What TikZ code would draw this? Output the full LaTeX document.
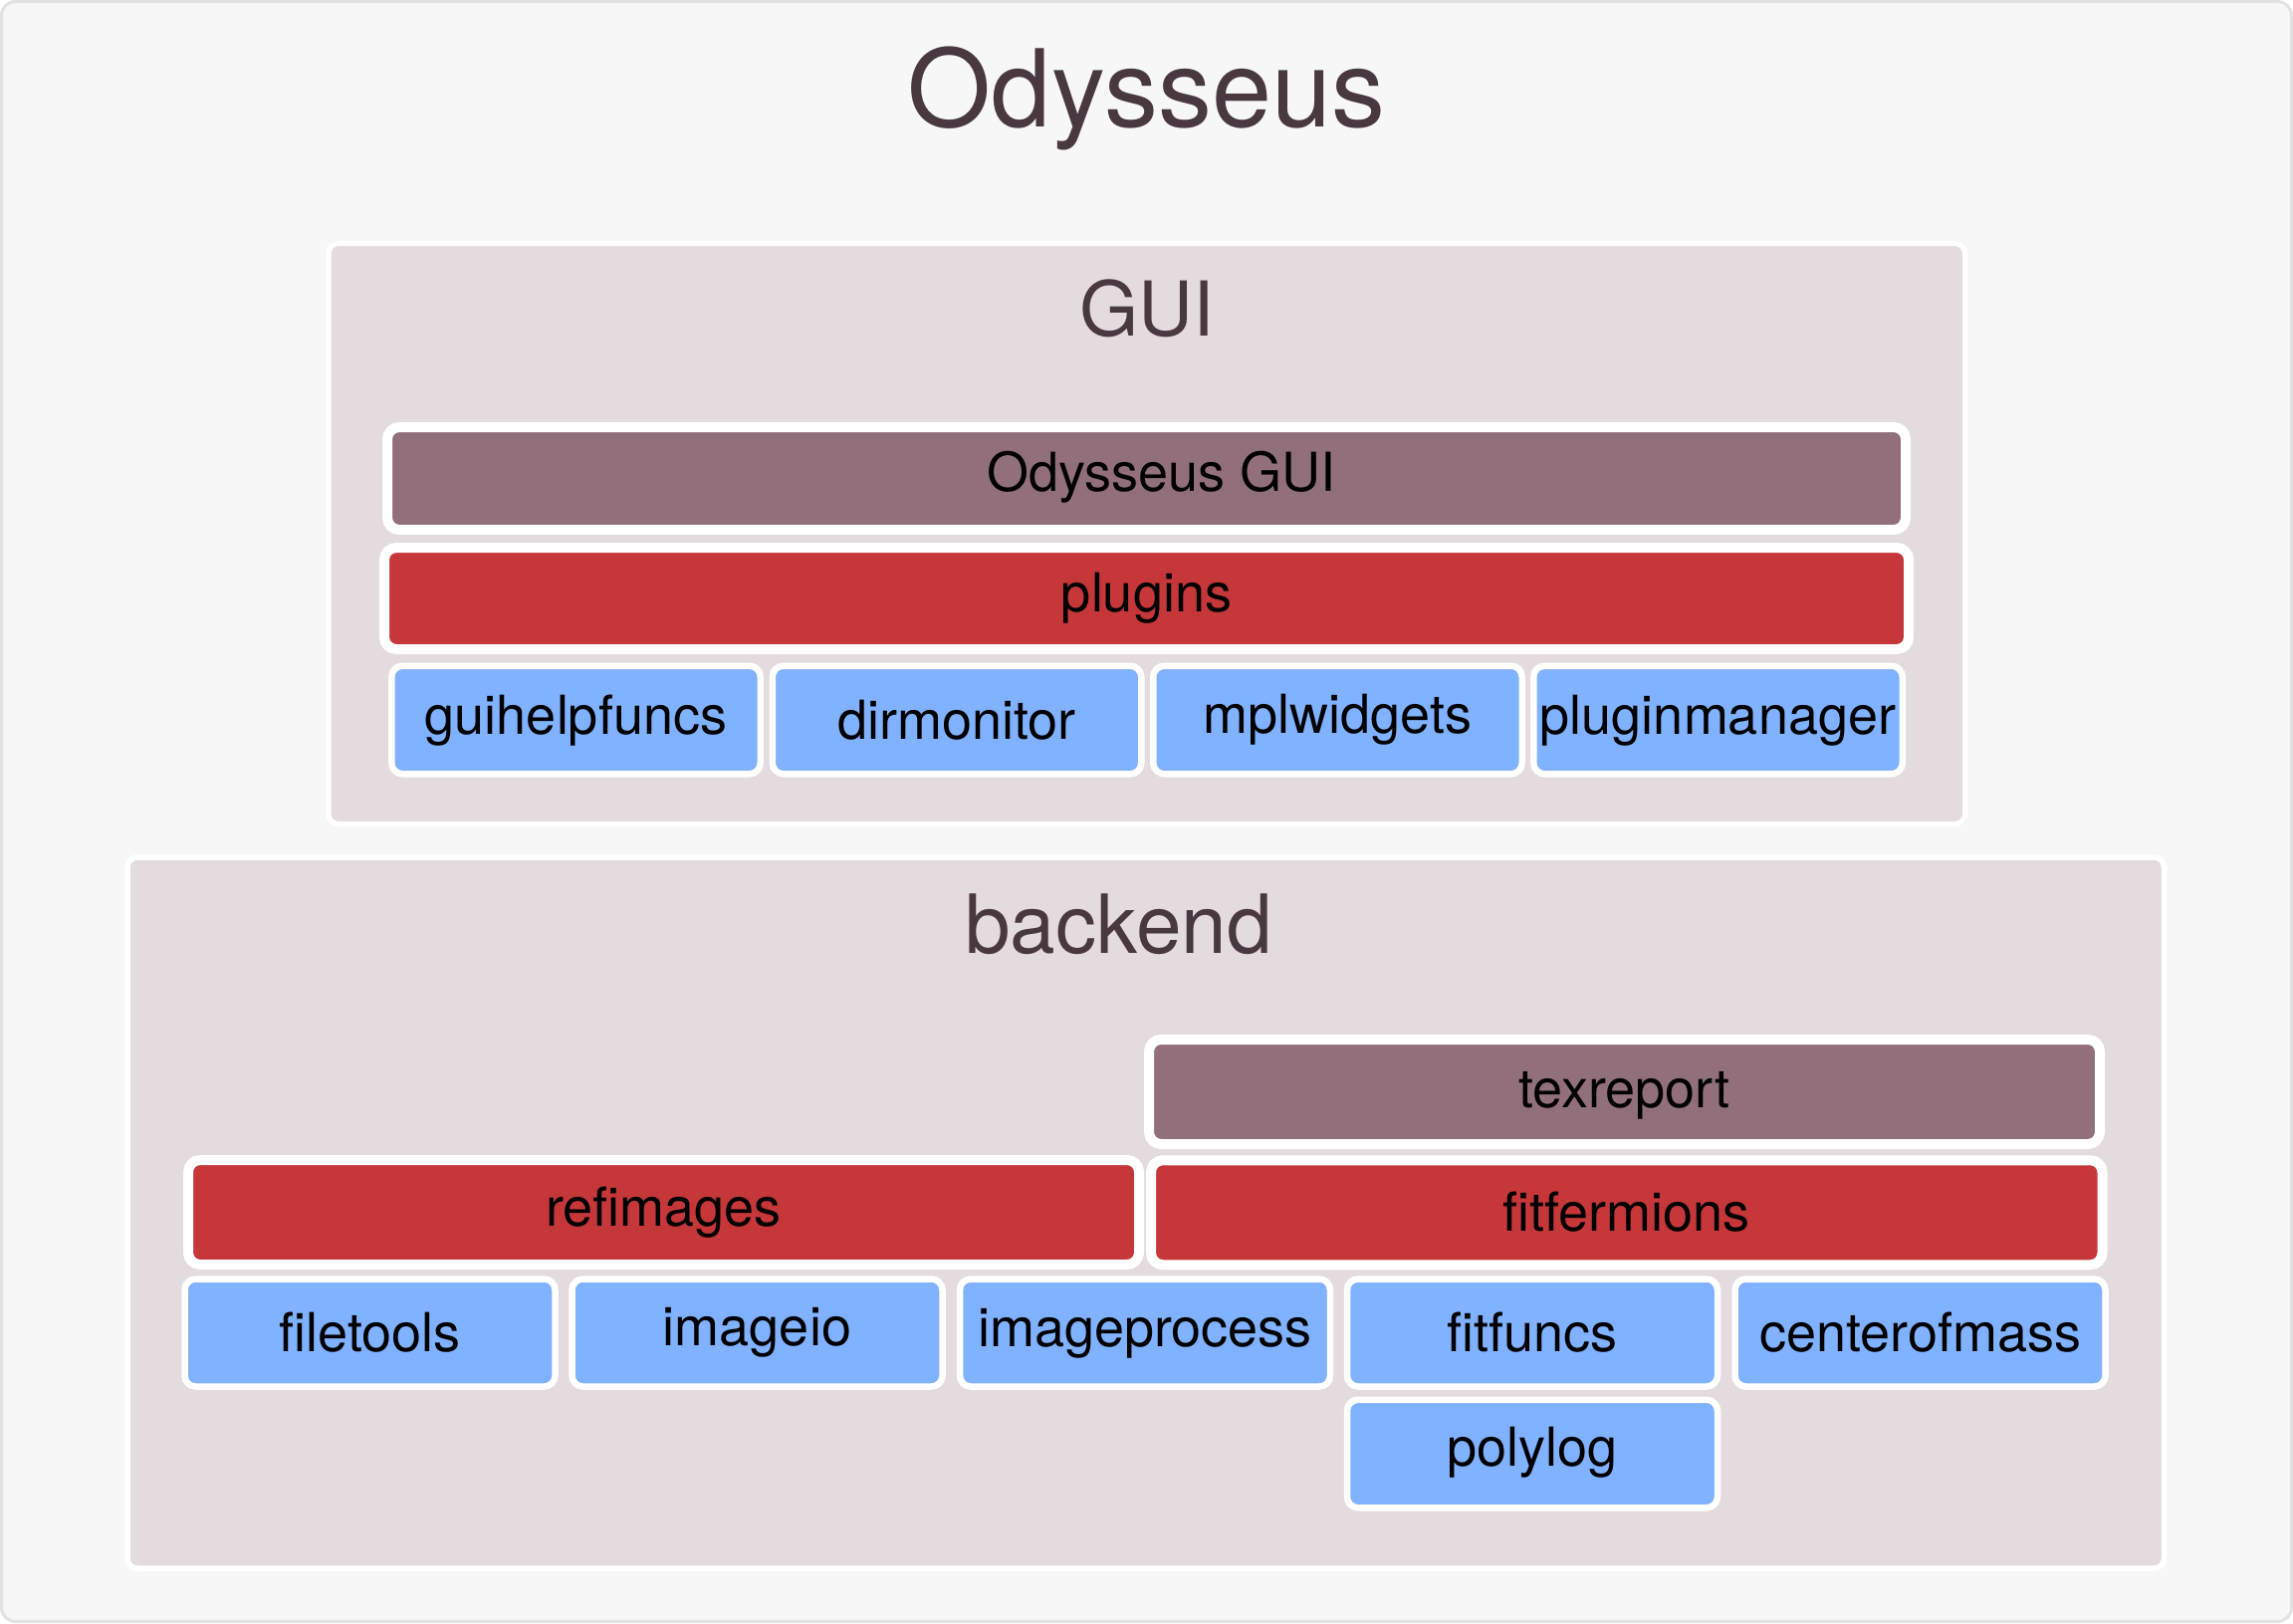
\documentclass[tikz,border=0pt]{standalone}
\usepackage{fontspec}
\setmainfont{TeX Gyre Heros}
\definecolor{bgc}{HTML}{F7F7F7}
\definecolor{framec}{HTML}{E2E2E2}
\definecolor{contc}{HTML}{E3DBDE}
\definecolor{purplec}{HTML}{92707B}
\definecolor{redc}{HTML}{C63739}
\definecolor{bluec}{HTML}{80B2FF}
\definecolor{titlec}{HTML}{483840}
\tikzset{
  container/.style={draw=white, fill=contc, line width=2.5pt, rounded corners=5pt, inner sep=0pt, outer sep=0pt},
  labelfont/.style={font=\fontsize{27}{31}\selectfont, text=black},
  bar/.style={draw=white, line width=5pt, rounded corners=6pt, inner sep=0pt, outer sep=0pt,
    text depth=0pt, labelfont, minimum height=52.5pt, minimum width=477.5pt},
  purplebar/.style={bar, fill=purplec},
  redbar/.style={bar, fill=redc},
  modbox/.style={draw=white, fill=bluec, line width=3.25pt, rounded corners=5.5pt, inner sep=0pt, outer sep=0pt,
    text depth=0pt, labelfont, minimum width=186pt, minimum height=54pt},
  guimod/.style={modbox, minimum width=185.25pt, minimum height=54.25pt},
  bl/.style={text height=#1},
  titletext/.style={text=titlec, inner sep=0pt, anchor=base},
}
\begin{document}
\begin{tikzpicture}[x=0.5pt,y=-0.5pt]
\useasboundingbox (0,0) rectangle (2303,1630);
\draw[draw=framec, fill=bgc, line width=1.5pt, rounded corners=7pt] (1.5,1.5) rectangle (2301.5,1628.5);

% containers
\node[container, minimum width=821.75pt, minimum height=291.5pt] (gui) at (1151.75,536) {};
\node[container, line width=2.75pt, minimum width=1022.75pt, minimum height=357pt] (backend) at (1150.75,1218) {};

% titles
\node[titletext, font=\fontsize{54}{60}\selectfont] (title) at (1151.5,127) {Odysseus};
\node[titletext, font=\fontsize{38}{44}\selectfont] (guititle) at (1152,337) {GUI};
\node[titletext, font=\fontsize{41}{47}\selectfont] (backendtitle) at (1123.5,957) {backend};

% GUI layer
\node[purplebar, minimum width=762.5pt, minimum height=51.5pt, bl=12.5pt] (odgui) at (1151.5,480.5) {\hspace*{15pt}Odysseus GUI};
\node[redbar, minimum width=765.5pt, minimum height=51pt, bl=13pt] (plugins) at (1151.5,601) {plugins};
\node[guimod, bl=14pt] (guihelpfuncs) at (578.5,723) {guihelpfuncs};
\node[guimod, bl=19pt] (dirmonitor) at (961,723) {dirmonitor};
\node[guimod, bl=13pt] (mplwidgets) at (1343.5,723) {mplwidgets};
\node[guimod, bl=14pt] (pluginmanager) at (1725.5,723) {pluginmanager};

% backend layer
\node[purplebar, bl=15.5pt] (texreport) at (1631.5,1096.5) {texreport};
\node[redbar, bl=13.5pt] (refimages) at (666.5,1217.5) {refimages};
\node[redbar, minimum width=477.75pt, bl=19pt] (fitfermions) at (1633.75,1217.75) {fitfermions};
\node[modbox, bl=18.5pt] (filetools) at (371.5,1338.5) {filetools};
\node[modbox, bl=13pt] (imageio) at (760.5,1338.5) {imageio};
\node[modbox, bl=13.5pt] (imageprocess) at (1150,1338.5) {imageprocess};
\node[modbox, bl=18.5pt] (fitfuncs) at (1539,1338.5) {fitfuncs};
\node[modbox, bl=18.5pt] (centerofmass) at (1928.5,1338.5) {centerofmass};
\node[modbox, minimum height=54.25pt, bl=12pt] (polylog) at (1539,1460) {polylog};
\end{tikzpicture}
\end{document}
